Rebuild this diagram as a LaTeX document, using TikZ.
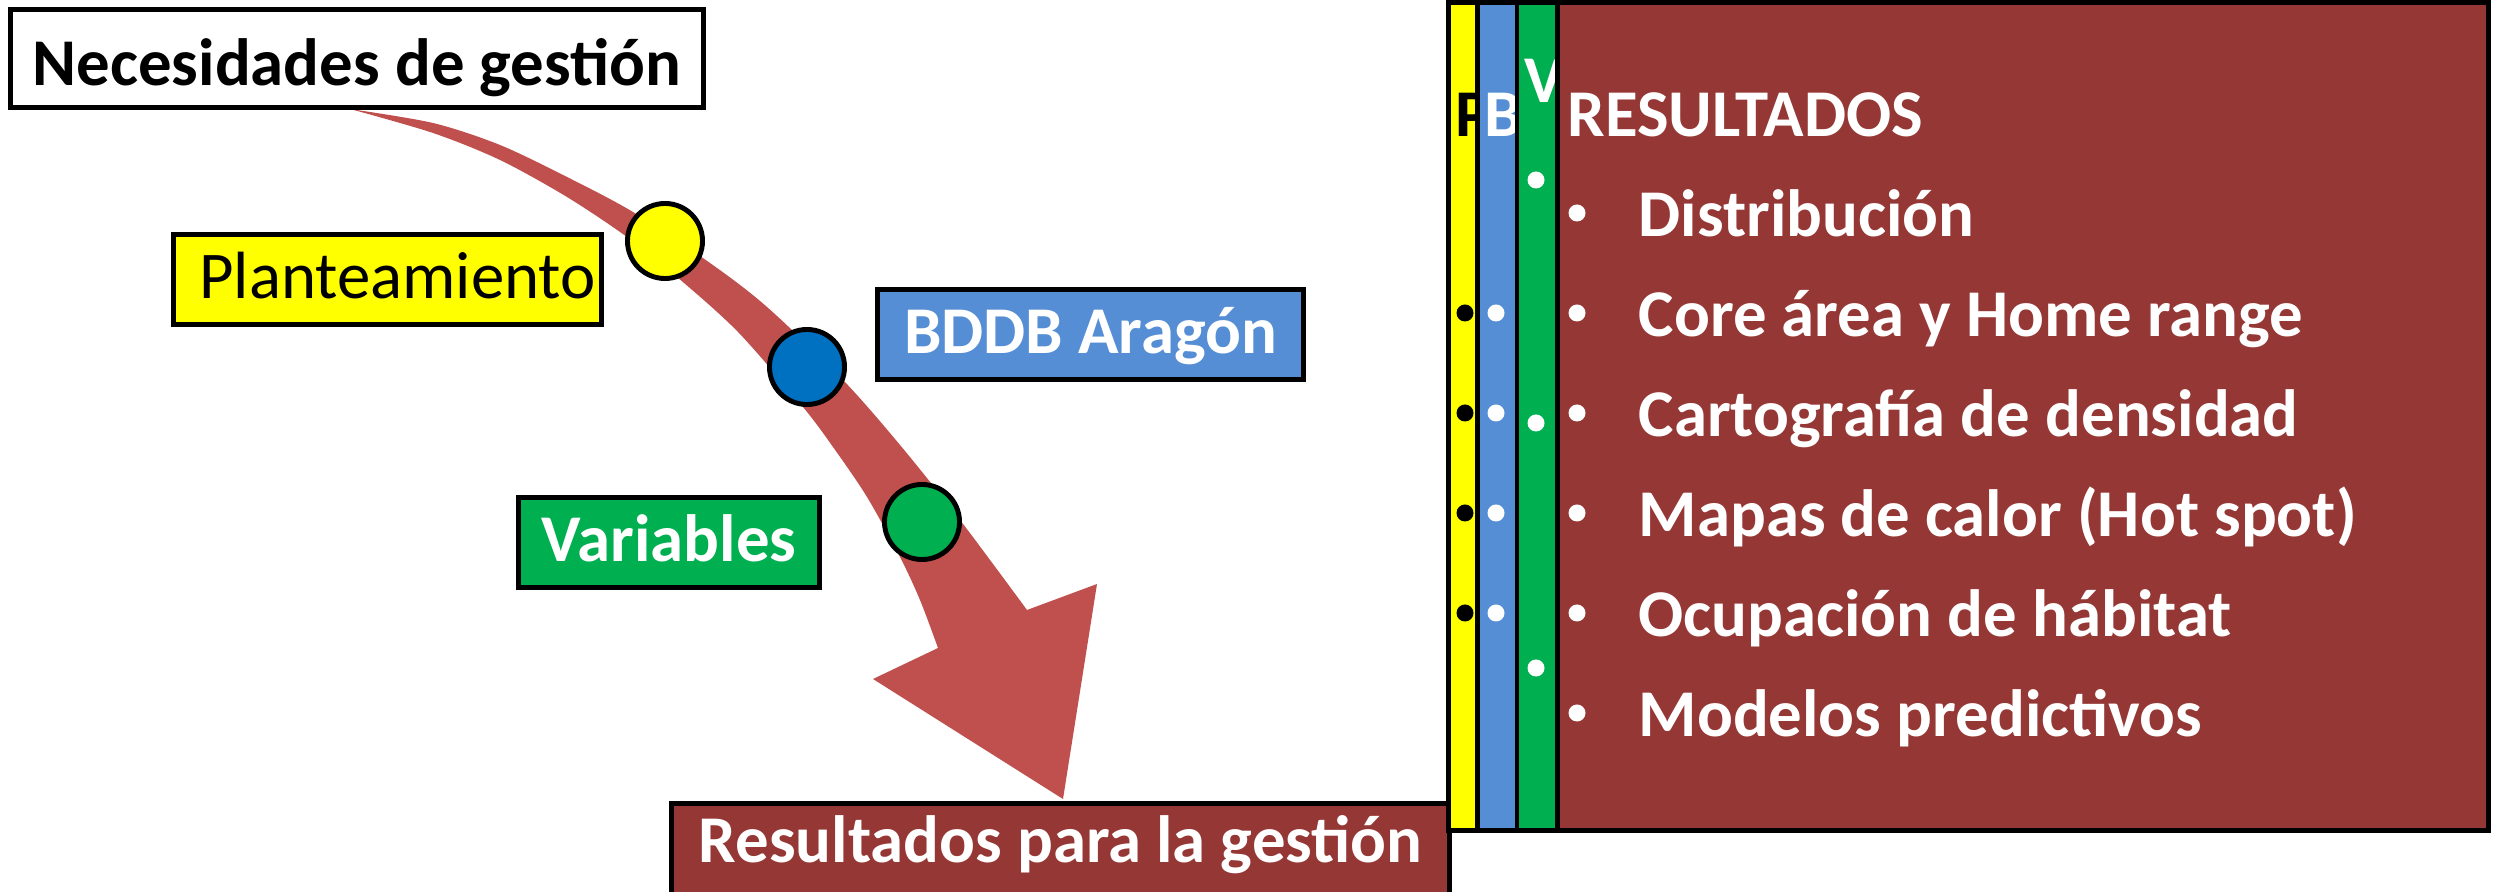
\documentclass[tikz,border=0pt]{standalone}
\usepackage{fontspec}
\setmainfont{Carlito}
\usepackage{xcolor}
\usetikzlibrary{positioning, arrows.meta, shapes}

\definecolor{flecha}{HTML}{C0504D}
\definecolor{amarillo}{HTML}{FFFF00}
\definecolor{azulcaja}{HTML}{558ED5}
\definecolor{azulpunto}{HTML}{0070C0}
\definecolor{verde}{HTML}{00B050}
\definecolor{granate}{HTML}{953735}

\begin{document}
\begin{tikzpicture}[x=0.01cm, y=-0.01cm,
    font=\fontsize{19}{23}\selectfont,
    caja/.style={draw=black, line width=1.4pt, inner sep=0pt, text height=0.46cm, text depth=0.09cm},
    hito/.style={circle, draw=black, line width=1.4pt, minimum size=0.75cm, inner sep=0pt},
    franja/.style={draw=black, line width=1.4pt},
    punto/.style={circle, fill=#1, inner sep=0pt, minimum size=0.17cm},
    letra/.style={anchor=base west, inner sep=0pt, font=\fontsize{19}{23}\selectfont\bfseries}]
    \useasboundingbox (0,0) rectangle (2503,892);

    % Flecha curva, por debajo de todo
    \coordinate (ini) at (350,109);
    \coordinate (ader) at (1027,610);
    \coordinate (pder) at (1097,584);
    \coordinate (punta) at (1063,799);
    \coordinate (pizq) at (873,679);
    \coordinate (aizq) at (938,648);
    \fill[flecha] plot[smooth] coordinates {(ini) (433,123) (500,145) (567,177) (633,212) (710,263) (767,307) (843,380) (900,445) (960,520) (ader)}
        -- (pder) -- (punta) -- (pizq) -- (aizq)
        -- plot[smooth] coordinates {(aizq) (920,600) (900,557) (867,497) (833,447) (803,407) (738,332) (677,277) (627,237) (567,197) (500,160) (433,133) (ini)} -- cycle;

    % Cajas de la izquierda
    \node[caja, fill=white, minimum width=6.92cm, minimum height=0.98cm, text height=0.62cm, font=\fontsize{19}{23}\selectfont\bfseries] (nec) at (357,58.5) {Necesidades de gestión};
    \node[caja, fill=amarillo, minimum width=4.28cm, minimum height=0.90cm] (plan) at (387.5,279.5) {\hspace{0.2cm}Planteamiento};
    \node[caja, fill=azulcaja, text=white, minimum width=4.26cm, minimum height=0.90cm, font=\fontsize{19}{23}\selectfont\bfseries] (bddb) at (1090.5,334.5) {BDDB Aragón};
    \node[caja, fill=verde, text=white, minimum width=3.01cm, minimum height=0.90cm, font=\fontsize{19}{23}\selectfont\bfseries] (var) at (669,542.5) {Variables};
    \node[caja, fill=granate, text=white, minimum width=7.78cm, minimum height=0.925cm, text height=0.35cm, font=\fontsize{19}{23}\selectfont\bfseries] (resg) at (1060.5,849.75) {Resultados para la gestión};

    % Hitos sobre la flecha
    \node[hito, fill=amarillo] (cplan) at (665,241) {};
    \node[hito, fill=azulpunto] (cbddb) at (807,367) {};
    \node[hito, fill=verde] (cvar) at (922,522) {};

    % Panel derecho: cuatro cajas apiladas
    \draw[franja, fill=amarillo] (1448.5,2.5) rectangle (2488.5,830.5);
    \node[letra, text=black] (lp) at (1455,137) {P};
    \foreach \y in {313,413,513,613}
        \node[punto=black] at (1465,\y) {};

    \draw[franja, fill=azulcaja] (1477.5,2.5) rectangle (2488.5,830.5);
    \node[letra, text=white] (lb) at (1484,137) {B};
    \foreach \y in {313,413,513,613}
        \node[punto=white] at (1496,\y) {};

    \draw[franja, fill=verde] (1517,2.5) rectangle (2488.5,830.5);
    \node[letra, text=white] (lv) at (1524,103) {V};
    \foreach \y in {180,423,668}
        \node[punto=white] at (1536,\y) {};

    \draw[franja, fill=granate] (1557.5,2.5) rectangle (2488.5,830.5);
    \node[letra, text=white] (res) at (1567,137) {RESULTADOS};
    \foreach \t [count=\i from 0] in {Distribución, Core área y Home range, Cartografía de densidad, Mapas de calor (Hot spot), Ocupación de hábitat, Modelos predictivos} {
        \node[punto=white] at (1577,213+100*\i) {};
        \node[letra, text=white] (it\i) at (1638,237+100*\i) {\t};
    }
\end{tikzpicture}
\end{document}
